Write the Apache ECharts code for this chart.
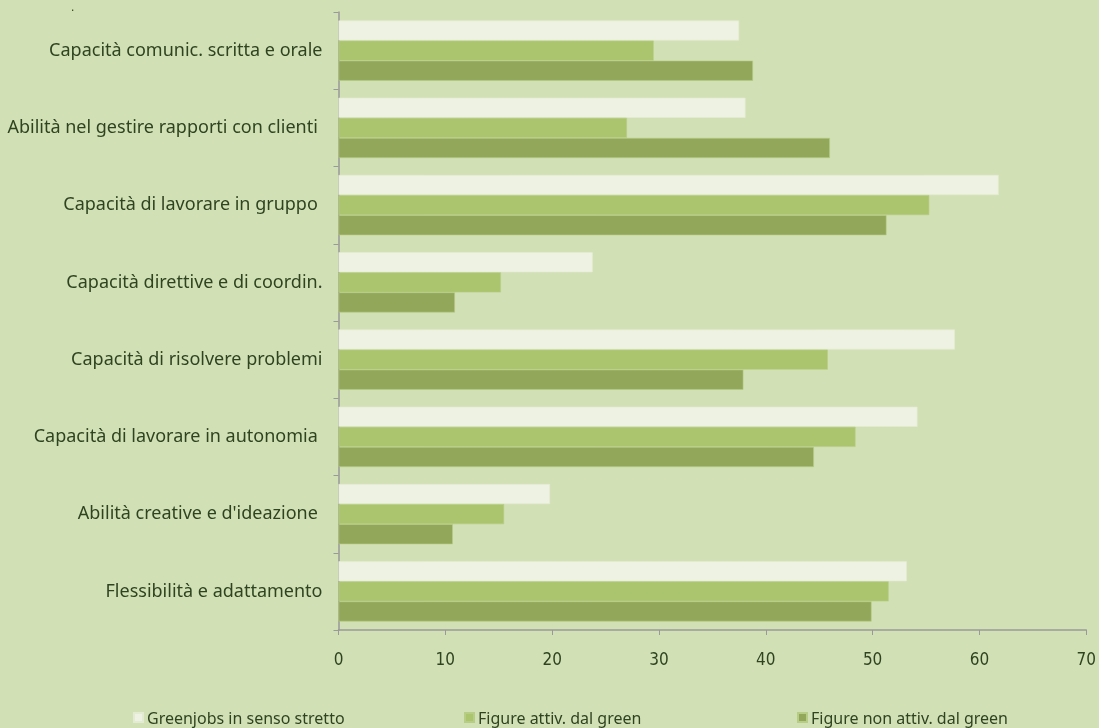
<!DOCTYPE html>
<html>
<head>
<meta charset="utf-8">
<script src="https://cdn.jsdelivr.net/npm/echarts@6/dist/echarts.min.js"></script>
<style>
  html, body { margin: 0; padding: 0; background: #d2e0b5; }
  #main { width: 1099px; height: 728px; }
</style>
</head>
<body>
<div id="main"></div>
<script>
// categorie dall'alto verso il basso
const categories = [
  'Capacità comunic. scritta e orale',
  'Abilità nel gestire rapporti con clienti ',
  'Capacità di lavorare in gruppo ',
  'Capacità direttive e di coordin.',
  'Capacità di risolvere problemi',
  'Capacità di lavorare in autonomia ',
  "Abilità creative e d'ideazione ",
  'Flessibilità e adattamento'
]
const seriesNames = ['Greenjobs in senso stretto', 'Figure attiv. dal green', 'Figure non attiv. dal green']
const greenjobs = [37.5, 38.1, 61.8, 23.8, 57.7, 54.2, 19.8, 53.2]
const attivGreen = [29.5, 27.0, 55.3, 15.2, 45.8, 48.4, 15.5, 51.5]
const nonAttivGreen = [38.8, 46.0, 51.3, 10.9, 37.9, 44.5, 10.7, 49.9]
const xTicks = [0, 10, 20, 30, 40, 50, 60, 70]

const colors = ['#eef2e2', '#abc56e', '#92a75a']
const textColor = '#2e4420'

function echartInit() {
  const chartDom = document.getElementById('main')
  const myChart = echarts.init(chartDom)

  const values = [greenjobs, attivGreen, nonAttivGreen]
  const legendLeft = [133, 464, 797]

  const option = {
    backgroundColor: '#d2e0b5',
    animation: false,
    grid: { left: 338.5, right: 11.5, top: 12, bottom: 98, containLabel: false },
    // tre legende separate per rispettare le posizioni
    legend: seriesNames.map((n, i) => ({
      data: [n],
      left: legendLeft[i],
      top: 711,
      padding: 0,
      itemWidth: 9,
      itemHeight: 9,
      itemGap: 0,
      icon: 'rect',
      formatter: '{t|{name}}',
      textStyle: {
        color: textColor,
        fontSize: 16,
        fontFamily: 'Noto Sans',
        rich: { t: { fontSize: 16, fontFamily: 'Noto Sans', color: textColor, padding: [3, 0, 0, -1] } },
      },
    })),
    xAxis: {
      type: 'value',
      min: xTicks[0],
      max: xTicks[xTicks.length - 1],
      interval: 10,
      splitLine: { show: false },
      axisLine: { show: true, lineStyle: { color: '#999999', width: 1.5 } },
      axisTick: { show: true, length: 5, lineStyle: { color: '#999999' } },
      axisLabel: {
        color: textColor,
        fontSize: 17,
        fontFamily: "'Liberation Sans Narrow', 'DejaVu Sans Condensed', sans-serif",
        margin: 22,
      },
    },
    yAxis: {
      type: 'category',
      inverse: true,
      data: categories,
      axisLine: { show: true, lineStyle: { color: '#999999', width: 1.5 } },
      axisTick: { show: true, length: 5, lineStyle: { color: '#999999' } },
      axisLabel: { color: textColor, fontSize: 18, fontFamily: 'Noto Sans', margin: 16 },
    },
    series: seriesNames.map((n, i) => ({
      name: n,
      type: 'bar',
      data: values[i],
      barGap: 0,
      barCategoryGap: '22%',
      itemStyle: { color: colors[i], borderColor: i === 0 ? '#e4ebd3' : '#b7cc85', borderWidth: 0.6 },
    })),
    graphic: [
      { type: 'text', left: 71, top: 2, style: { text: '.', fill: textColor, fontSize: 12 } },
    ],
  }

  option && myChart.setOption(option)
}

echartInit()
</script>
</body>
</html>
